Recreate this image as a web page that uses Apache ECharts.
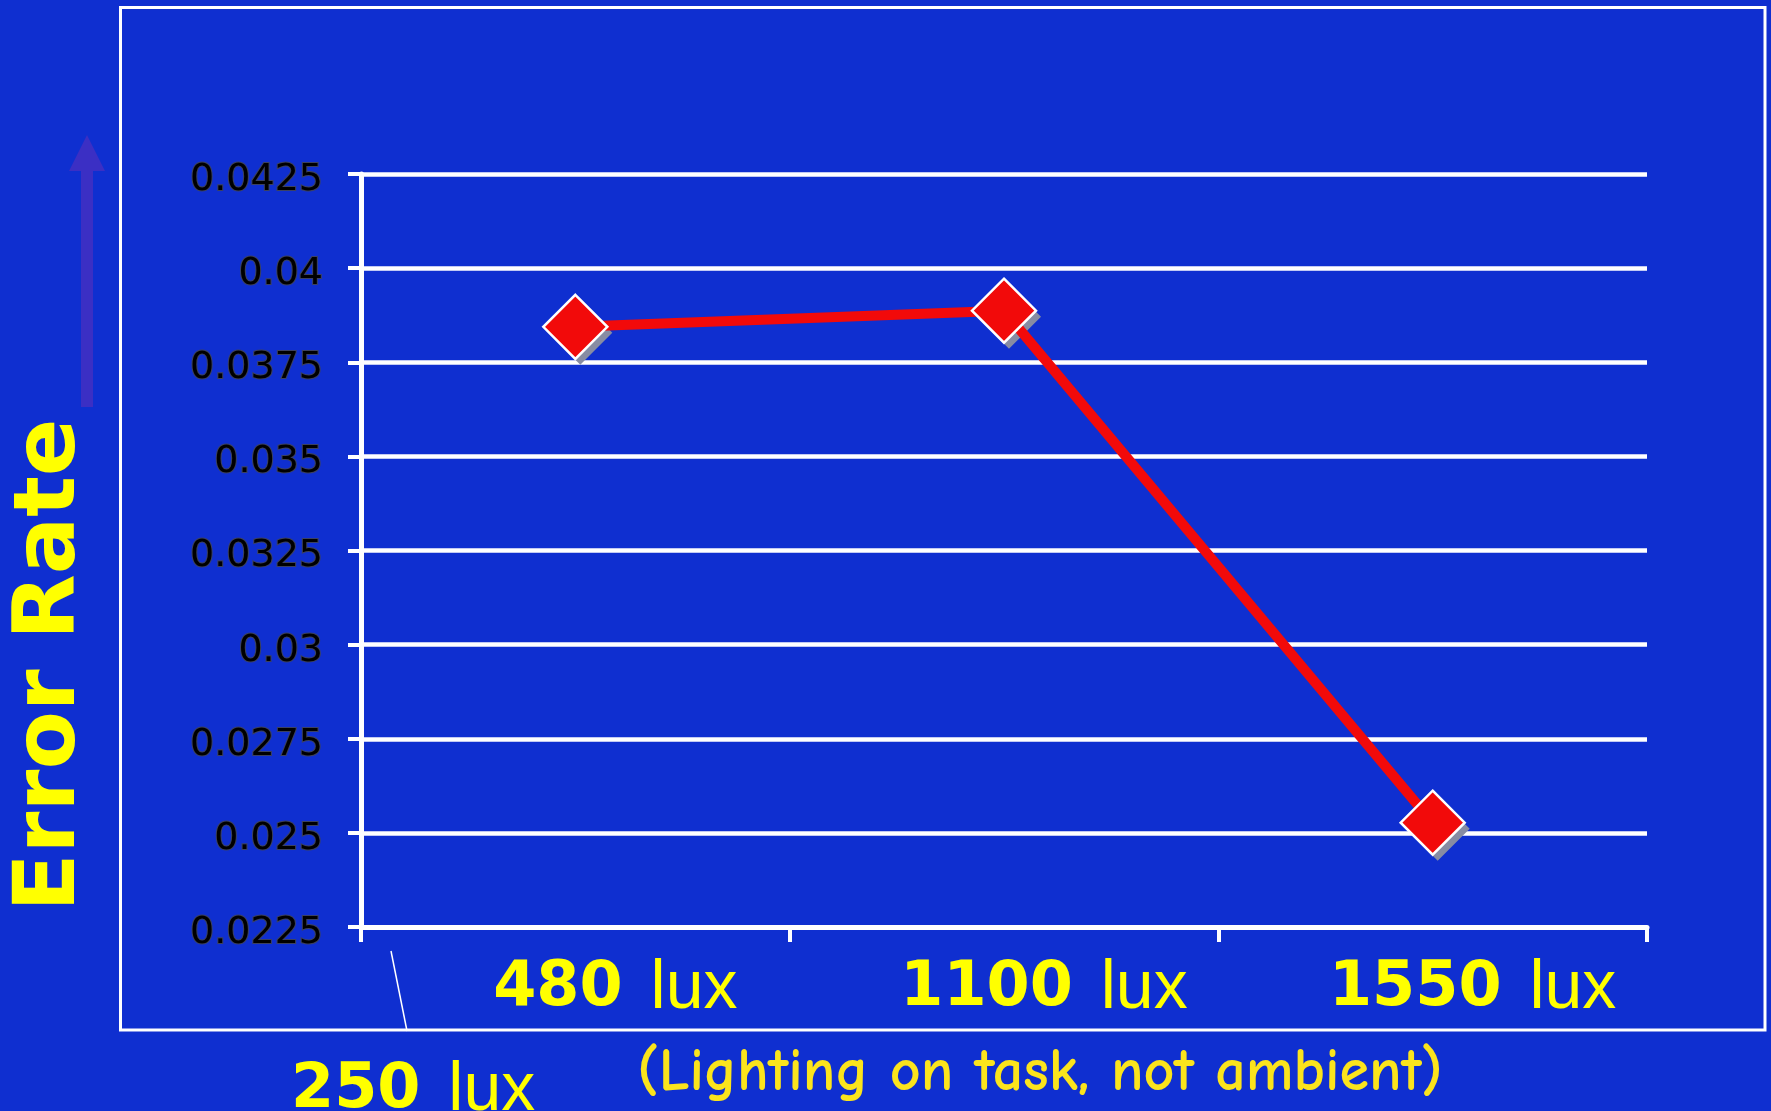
<!DOCTYPE html>
<html>
<head>
<meta charset="utf-8">
<script src="https://cdn.jsdelivr.net/npm/echarts@6/dist/echarts.min.js"></script>
<style>
  html, body { margin: 0; padding: 0; background: #0f2fd0; }
  #chart { width: 1771px; height: 1111px; }
</style>
</head>
<body>
<div id="chart"></div>
<script>
// Error rate by task lighting level
const categories = ['480 lux', '1100 lux', '1550 lux'];
const errorRate = [0.03844, 0.03887, 0.02527];
const yTicks = [0.0225, 0.025, 0.0275, 0.03, 0.0325, 0.035, 0.0375, 0.04, 0.0425];
const baselineLabel = '250 lux';
const yAxisTitle = 'Error Rate';
const xAxisNote = '(Lighting on task, not ambient)';

const YELLOW = '#ffff00';
const RED = '#f20a0a';
const WHITE = '#ffffff';

// "480 lux" -> bold number + light unit
function luxRich(s) {
  const parts = s.split(' ');
  return '{n|' + parts[0] + '}{l|\u00a0' + parts[1] + '}';
}
const luxStyles = {
  n: { fontFamily: 'DejaVu Sans', fontWeight: 'bold', fontSize: 62, color: YELLOW, fill: YELLOW, lineHeight: 70 },
  l: { fontFamily: 'Liberation Sans', fontSize: 68, color: YELLOW, fill: YELLOW, lineHeight: 70, padding: [0, 0, 0, 9] }
};

const yStep = +(yTicks[1] - yTicks[0]).toFixed(6);

const markerSize = 64;

const chart = echarts.init(document.getElementById('chart'));
chart.setOption({
  animation: false,
  backgroundColor: '#0f2fd0',
  grid: { left: 361, top: 174, width: 1286, height: 753 },
  xAxis: {
    type: 'category',
    data: categories,
    boundaryGap: true,
    axisLine: { show: true, lineStyle: { color: WHITE, width: 5 } },
    axisTick: { show: true, length: 15, lineStyle: { color: WHITE, width: 4 } },
    axisLabel: {
      formatter: luxRich,
      rich: luxStyles,
      margin: 27,
      padding: [0, 0, 0, 80]
    },
    splitLine: { show: false }
  },
  yAxis: {
    type: 'value',
    min: yTicks[0],
    max: yTicks[yTicks.length - 1],
    interval: yStep,
    axisLine: { show: true, lineStyle: { color: WHITE, width: 5 } },
    axisTick: { show: true, length: 13, lineStyle: { color: WHITE, width: 4 } },
    axisLabel: {
      color: '#000000',
      fontFamily: 'DejaVu Sans',
      fontSize: 38,
      margin: 38,
      verticalAlign: 'top',
      lineHeight: 12,
      textBorderColor: 'rgba(70,70,70,0.8)',
      textBorderWidth: 2,
      formatter: v => String(+v.toFixed(4))
    },
    splitLine: { show: true, lineStyle: { color: WHITE, width: 4.5 } }
  },
  series: [
    {
      // drop shadow under each marker
      type: 'line',
      data: errorRate,
      symbol: 'diamond',
      symbolSize: markerSize,
      symbolOffset: [5, 6],
      lineStyle: { opacity: 0 },
      itemStyle: { color: '#878ca3' },
      silent: true,
      z: 4
    },
    {
      type: 'line',
      data: errorRate,
      symbol: 'diamond',
      symbolSize: markerSize,
      lineStyle: { color: RED, width: 10 },
      itemStyle: {
        color: RED,
        borderColor: WHITE,
        borderWidth: 2.5
      },
      z: 5
    }
  ],
  graphic: [
    {
      type: 'rect',
      silent: true,
      shape: { x: 120.5, y: 7.5, width: 1644.5, height: 1022.5 },
      style: { fill: 'none', stroke: WHITE, lineWidth: 3 }
    },
    {
      type: 'polygon',
      silent: true,
      shape: { points: [[81, 407], [93, 407], [93, 171], [105, 171], [87, 135], [69, 171], [81, 171]] },
      style: { fill: '#3b2fc4' }
    },
    {
      type: 'text',
      silent: true,
      x: 52, y: 665,
      rotation: Math.PI / 2,
      style: {
        text: yAxisTitle,
        fontFamily: 'DejaVu Sans',
        fontWeight: 'bold',
        fontSize: 85,
        fill: YELLOW,
        align: 'center',
        verticalAlign: 'middle'
      }
    },
    {
      type: 'line',
      silent: true,
      shape: { x1: 391, y1: 951, x2: 407, y2: 1031 },
      style: { stroke: WHITE, lineWidth: 1.5 }
    },
    {
      type: 'text',
      silent: true,
      x: 291, y: 1091,
      style: {
        text: luxRich(baselineLabel),
        rich: luxStyles,
        fill: YELLOW,
        align: 'left',
        verticalAlign: 'middle'
      }
    },
    {
      type: 'text',
      silent: true,
      x: 1040, y: 1073,
      style: {
        text: xAxisNote,
        fontFamily: "'Comic Sans MS', 'Comic Neue', Lato",
        fontWeight: 'bold',
        fontSize: 60,
        fill: '#fbe41c',
        align: 'center',
        verticalAlign: 'middle'
      }
    }
  ]
});
</script>
</body>
</html>
